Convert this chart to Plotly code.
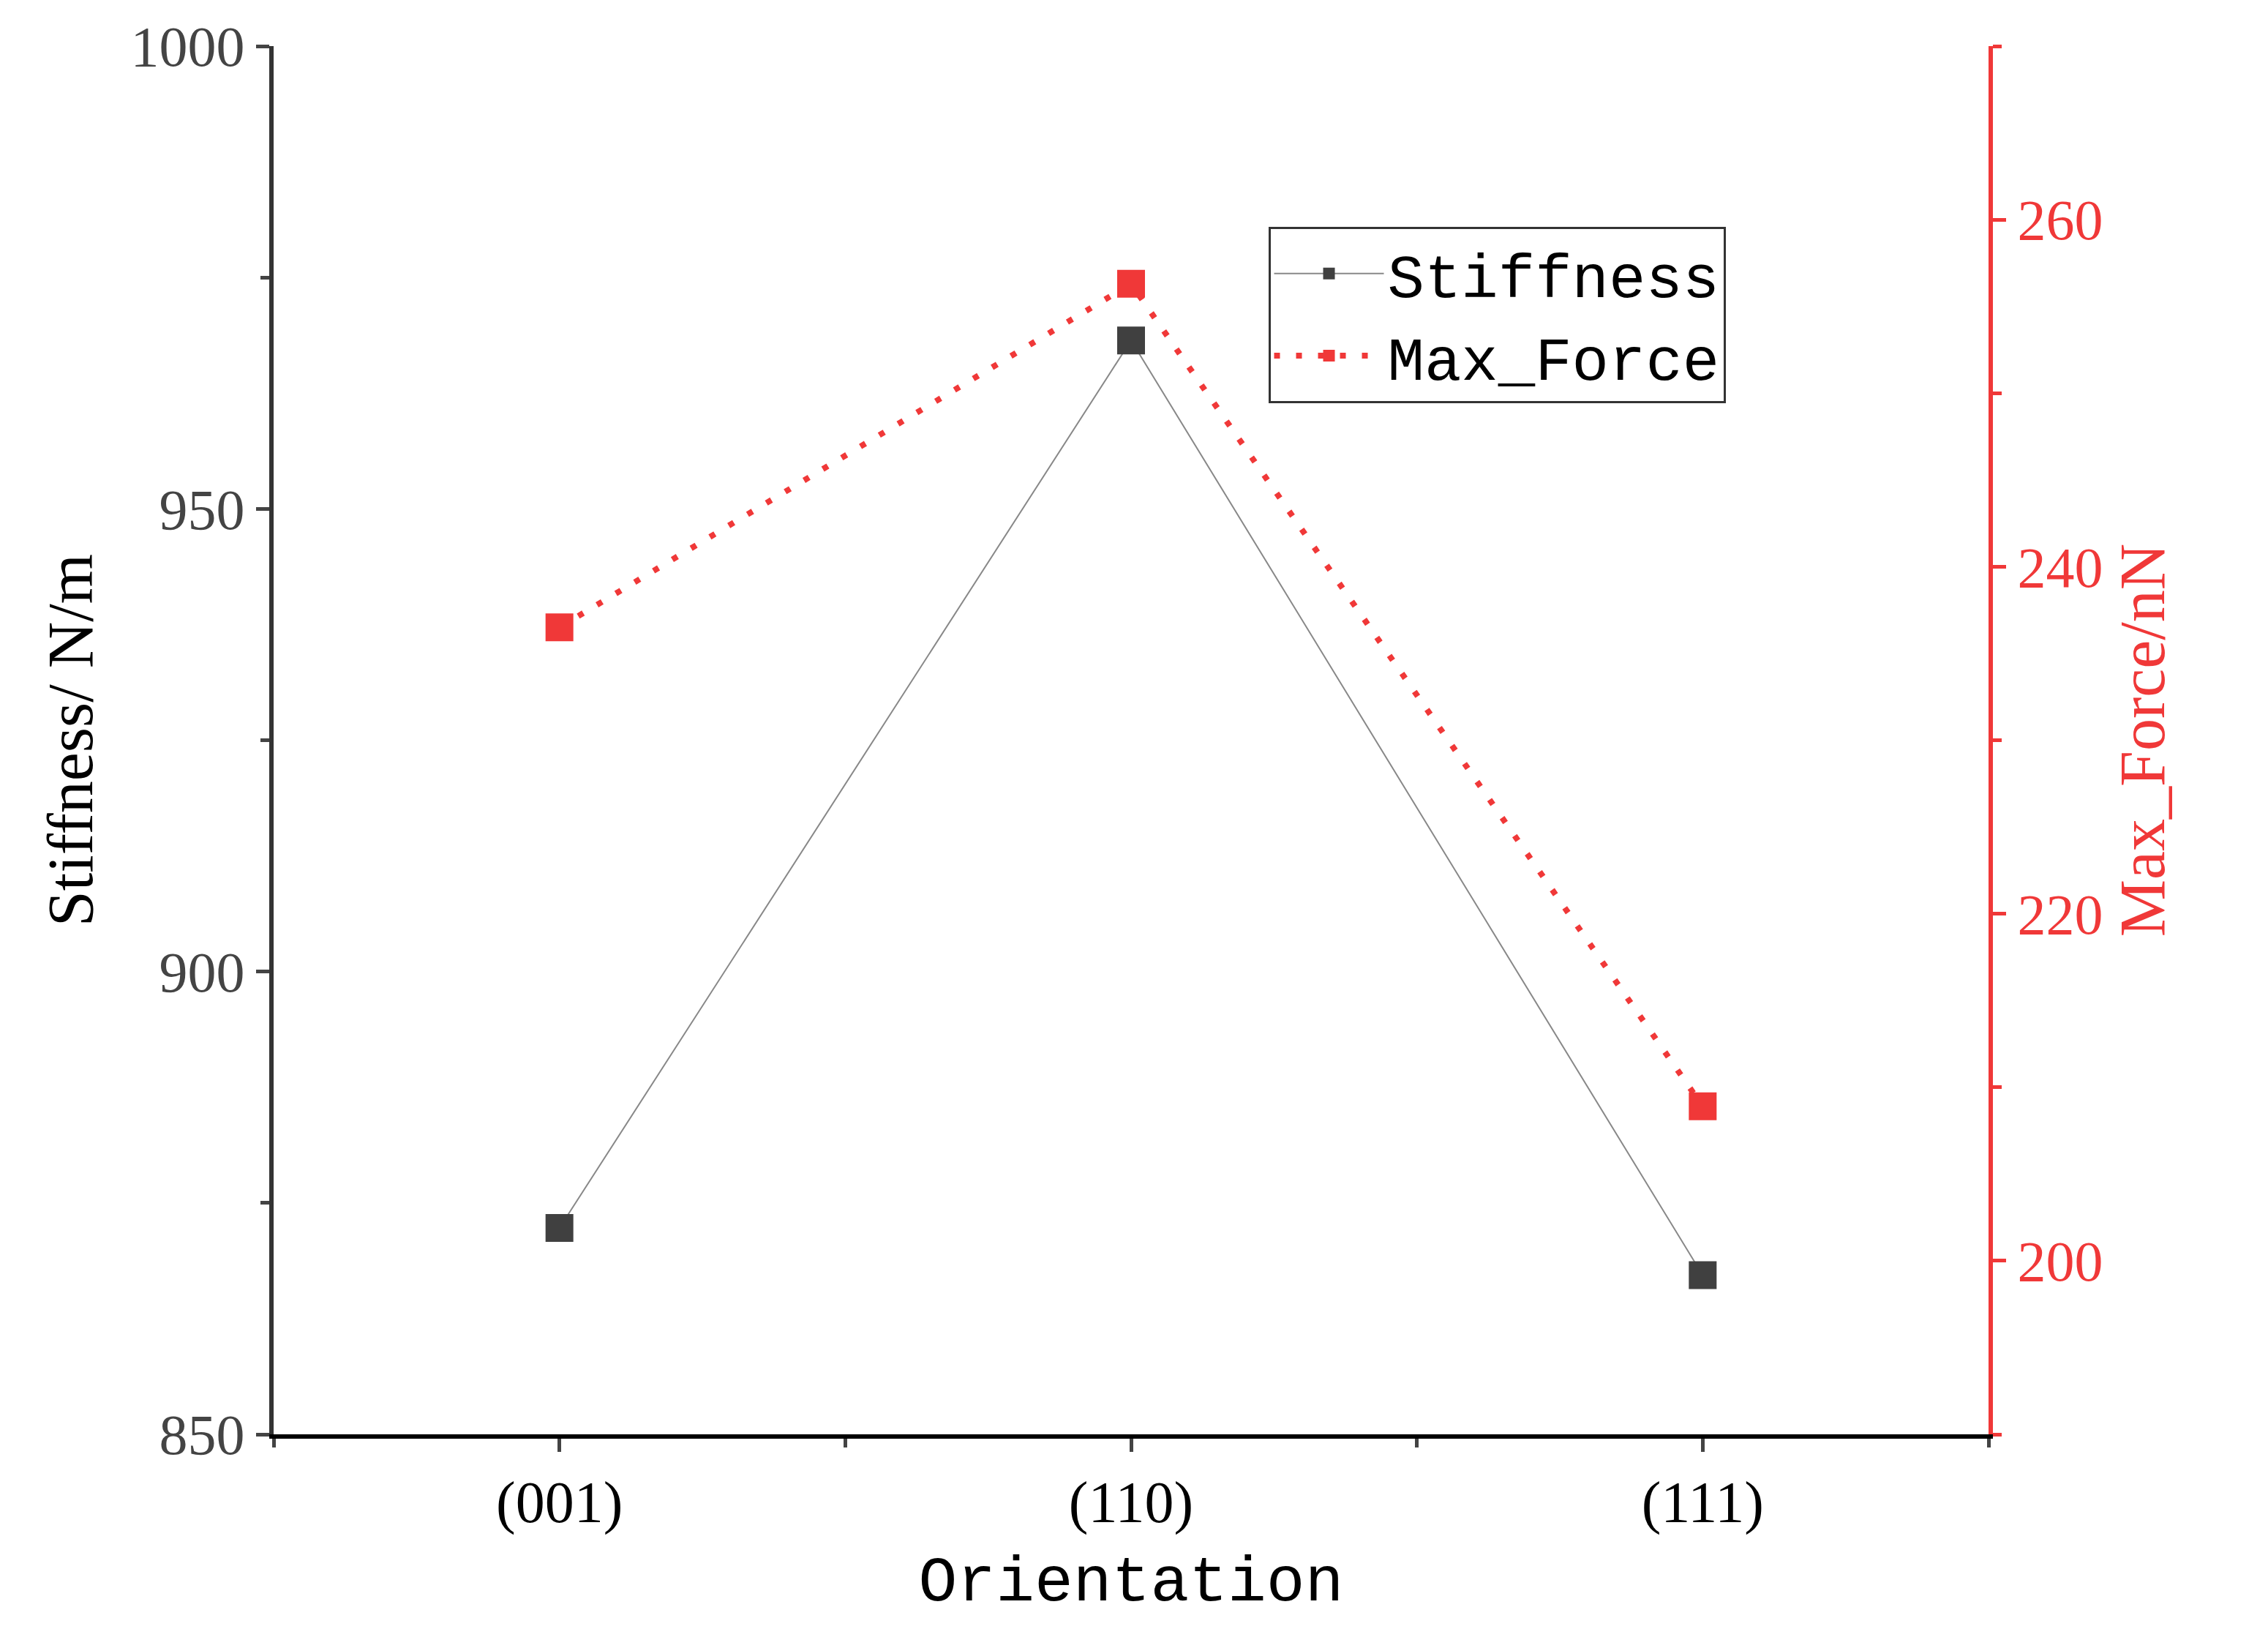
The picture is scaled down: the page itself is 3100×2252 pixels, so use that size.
import plotly.graph_objects as go

categories = ["(001)", "(110)", "(111)"]
stiffness = [872.3, 968.2, 867.2]
max_force = [236.5, 256.3, 208.9]
xpos = [0, 1, 2]

fig = go.Figure()
fig.add_trace(go.Scatter(x=xpos, y=stiffness, name="Stiffness", mode="lines+markers",
    line=dict(color="#888888", width=2), marker=dict(symbol="square", size=38, color="#404040")))
fig.add_trace(go.Scatter(x=xpos, y=max_force, name="Max_Force", mode="lines+markers", yaxis="y2",
    line=dict(color="#f03838", width=8, dash="8px,22px"), marker=dict(symbol="square", size=38, color="#f03838")))

tickfont = dict(family="Liberation Serif", size=78, color="#444")
fig.update_layout(
    width=3100, height=2252, plot_bgcolor="white", paper_bgcolor="white",
    margin=dict(l=366, r=390, t=50, b=300),
    xaxis=dict(range=[-0.5, 2.5], tickvals=xpos, ticktext=categories, showgrid=False, zeroline=False,
        showline=True, linecolor="black", linewidth=6, ticks="outside", ticklen=18, tickwidth=5,
        minor=dict(tickvals=[-0.5, 0.5, 1.5, 2.5], ticks="outside", ticklen=12, tickwidth=5),
        tickfont=dict(family="Liberation Serif", size=80, color="black"),
        title=dict(text="Orientation", font=dict(family="Liberation Mono", size=88, color="black"), standoff=30)),
    yaxis=dict(range=[850, 1000], dtick=50, showgrid=False, zeroline=False, showline=True, linecolor="#333",
        linewidth=6, ticks="outside", ticklen=18, tickwidth=5,
        minor=dict(dtick=25, ticks="outside", ticklen=12, tickwidth=5), tickfont=tickfont,
        title=dict(text="Stiffness/ N/m", font=dict(family="Liberation Serif", size=88, color="black"), standoff=25)),
    yaxis2=dict(range=[190, 270], dtick=20, tick0=200, overlaying="y", side="right", showgrid=False, zeroline=False,
        showline=True, linecolor="#f03838", linewidth=6, ticks="outside", ticklen=18, tickwidth=5, tickcolor="#f03838",
        minor=dict(dtick=10, ticks="outside", ticklen=12, tickwidth=5, tickcolor="#f03838"),
        tickfont=dict(family="Liberation Serif", size=78, color="#f03838"),
        title=dict(text="Max_Force/nN", font=dict(family="Liberation Serif", size=88, color="#f03838"), standoff=25)),
    legend=dict(x=0.58, y=0.87, xanchor="left", yanchor="top", bordercolor="#333", borderwidth=3,
        font=dict(family="Liberation Mono", size=84, color="black"), bgcolor="white", itemwidth=150),
    showlegend=True,
)
fig.write_html("out.html")
